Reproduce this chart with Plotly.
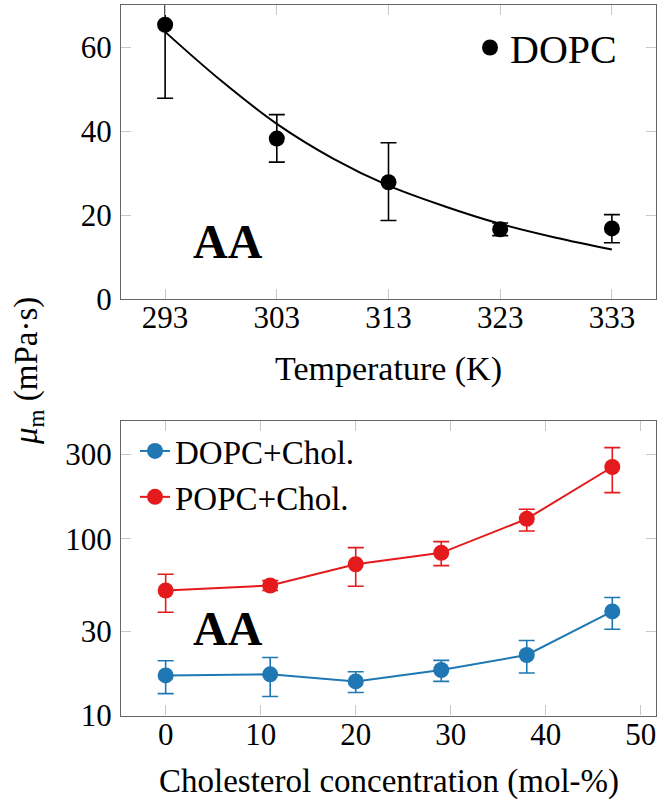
import plotly.graph_objects as go

# ---------- data: top panel (DOPC vs temperature) ----------
temp_K = [293, 303, 313, 323, 333]
dopc_mu = [65.3, 38.2, 27.8, 16.6, 16.8]
dopc_err_plus = [17.5, 5.7, 9.4, 1.5, 3.3]
dopc_err_minus = [17.5, 5.6, 9.1, 1.5, 3.4]

fit_T = [293, 298, 303, 308, 313, 318, 323, 328, 333]
fit_mu = [63.6, 52.0, 41.7, 33.5, 27.0, 22.1, 17.9, 14.6, 11.8]

temp_ticks = [293, 303, 313, 323, 333]
mu_ticks_top = [0, 20, 40, 60]

# ---------- data: bottom panel (vs cholesterol) ----------
chol = [0, 11, 20, 29, 38, 47]
dopc_chol = [16.85, 17.1, 15.6, 18.1, 22.0, 38.8]
dopc_chol_hi = [20.4, 21.3, 17.7, 20.5, 26.6, 46.5]
dopc_chol_lo = [13.3, 12.8, 13.5, 15.6, 17.4, 30.8]

popc_chol = [51.0, 54.4, 71.8, 83.3, 129.7, 255.0]
popc_chol_hi = [63.0, 58.0, 89.2, 96.4, 147.0, 328.0]
popc_chol_lo = [38.4, 51.0, 53.9, 70.5, 110.8, 182.6]

chol_ticks = [0, 10, 20, 30, 40, 50]
mu_ticks_bot = [10, 30, 100, 300]

BLUE = "#1f77b4"
RED = "#e41a1c"
FONT = "'Liberation Serif', 'Times New Roman', 'DejaVu Serif', serif"

def plus(v, hi):
    return [h - x for x, h in zip(v, hi)]

def minus(v, lo):
    return [x - l for x, l in zip(v, lo)]

fig = go.Figure()

# top: fit curve
fig.add_trace(go.Scatter(
    x=fit_T, y=fit_mu, mode="lines", line=dict(color="black", width=2, shape="spline"),
    showlegend=False, xaxis="x", yaxis="y", hoverinfo="skip"))
# top: data
fig.add_trace(go.Scatter(
    x=temp_K, y=dopc_mu, mode="markers", name="DOPC",
    marker=dict(color="black", size=16),
    error_y=dict(type="data", symmetric=False, array=dopc_err_plus, arrayminus=dopc_err_minus,
                 color="black", thickness=1.6, width=8),
    xaxis="x", yaxis="y", legend="legend"))

# bottom
fig.add_trace(go.Scatter(
    x=chol, y=dopc_chol, mode="lines+markers", name="DOPC+Chol.",
    line=dict(color=BLUE, width=2), marker=dict(color=BLUE, size=16),
    error_y=dict(type="data", symmetric=False, array=plus(dopc_chol, dopc_chol_hi),
                 arrayminus=minus(dopc_chol, dopc_chol_lo), color=BLUE, thickness=1.6, width=8),
    xaxis="x2", yaxis="y2", legend="legend2"))
fig.add_trace(go.Scatter(
    x=chol, y=popc_chol, mode="lines+markers", name="POPC+Chol.",
    line=dict(color=RED, width=2), marker=dict(color=RED, size=16),
    error_y=dict(type="data", symmetric=False, array=plus(popc_chol, popc_chol_hi),
                 arrayminus=minus(popc_chol, popc_chol_lo), color=RED, thickness=1.6, width=8),
    xaxis="x2", yaxis="y2", legend="legend2"))

W, H = 666, 810
def px(xp):
    return xp / W
def py(yp):
    return 1 - yp / H

axis_common = dict(
    showline=True, linecolor="#666666", linewidth=1.3, mirror="ticks",
    ticks="inside", ticklen=10, tickwidth=1, tickcolor="#c8c8c8",
    showgrid=False, zeroline=False, automargin=False,
    tickfont=dict(family=FONT, size=31, color="black"),
)

fig.update_layout(
    width=W, height=H,
    margin=dict(l=0, r=0, t=0, b=0, pad=0, autoexpand=False),
    paper_bgcolor="white", plot_bgcolor="white",
    font=dict(family=FONT, color="black"),
    xaxis=dict(domain=[px(121), px(656)], range=[289.05, 336.95], tickvals=temp_ticks,
               anchor="y", ticklabelstandoff=-9, **axis_common),
    yaxis=dict(domain=[py(299), py(5)], range=[0, 70], tickvals=mu_ticks_top,
               anchor="x", ticklabelstandoff=2, **axis_common),
    xaxis2=dict(domain=[px(121), px(656)], range=[-4.7, 51.6], tickvals=chol_ticks,
                anchor="y2", ticklabelstandoff=-9, **axis_common),
    yaxis2=dict(domain=[py(715.5), py(420.7)], type="log", range=[1, 2.6685],
                tickvals=mu_ticks_bot, ticktext=[str(v) for v in mu_ticks_bot],
                anchor="x2", ticklabelstandoff=2, **axis_common),
    legend=dict(x=px(470), y=py(15), xanchor="left", yanchor="top",
                bgcolor="rgba(0,0,0,0)", borderwidth=0,
                font=dict(family=FONT, size=40, color="black")),
    legend2=dict(x=px(135), y=py(423), xanchor="left", yanchor="top",
                 bgcolor="rgba(0,0,0,0)", borderwidth=0,
                 font=dict(family=FONT, size=33, color="black")),
    showlegend=True,
)

annotations = [
    dict(text="Temperature (K)", x=px(388.5), y=py(369), xref="paper", yref="paper",
         xanchor="center", yanchor="middle", showarrow=False,
         font=dict(family=FONT, size=34, color="black")),
    dict(text="Cholesterol concentration (mol-%)", x=px(388.5), y=py(781), xref="paper", yref="paper",
         xanchor="center", yanchor="middle", showarrow=False,
         font=dict(family=FONT, size=33, color="black")),
    dict(text="<i>μ</i><sub>m</sub> (mPa·s)", x=px(28), y=py(371), xref="paper", yref="paper",
         xanchor="center", yanchor="middle", showarrow=False, textangle=-90,
         font=dict(family=FONT, size=33, color="black")),
    dict(text="<b>AA</b>", x=px(228), y=py(242), xref="paper", yref="paper",
         xanchor="center", yanchor="middle", showarrow=False,
         font=dict(family=FONT, size=48, color="black")),
    dict(text="<b>AA</b>", x=px(228), y=py(628), xref="paper", yref="paper",
         xanchor="center", yanchor="middle", showarrow=False,
         font=dict(family=FONT, size=48, color="black")),
]
fig.update_layout(annotations=annotations)

page_css = (
    "var s=document.createElement('style');"
    "s.innerHTML='html,body{margin:0;padding:0;overflow:hidden;width:666px;height:810px;}"
    "body>div{font-size:0;line-height:0;}';"
    "document.head.appendChild(s);"
)

fig.write_html(
    "out.html",
    config={"displayModeBar": False},
    post_script=page_css,
)
